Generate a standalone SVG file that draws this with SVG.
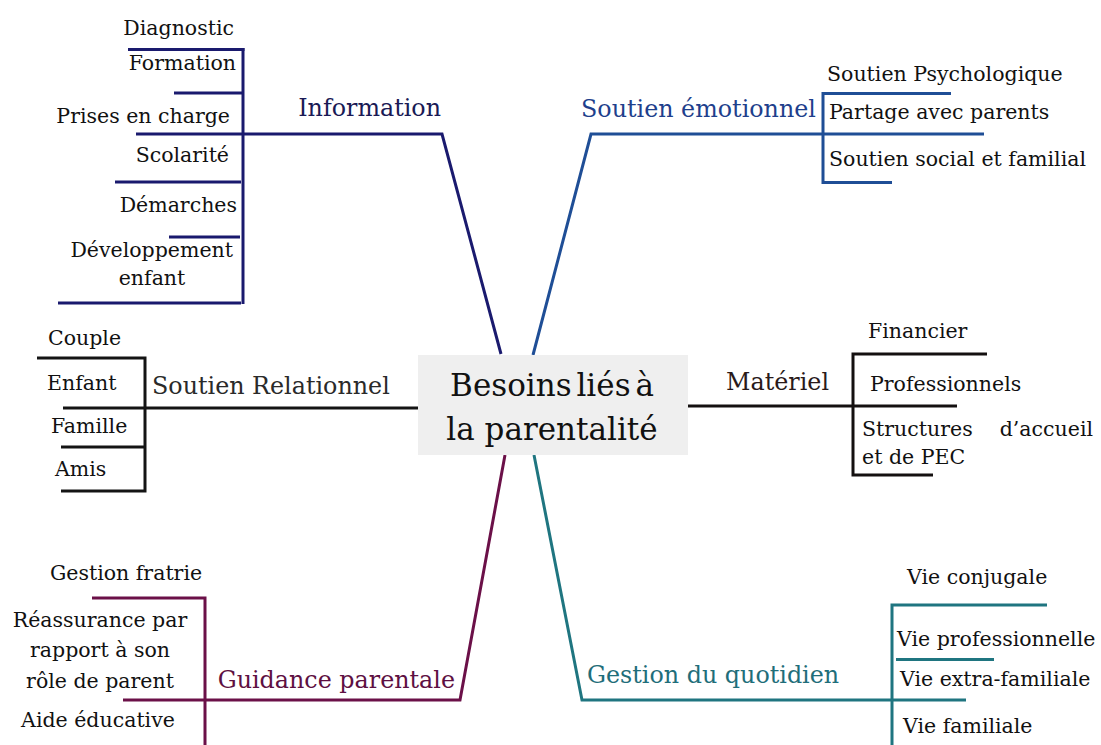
<svg xmlns="http://www.w3.org/2000/svg" width="1101" height="745" viewBox="0 0 1101 745">
<style>
text{font-family:"DejaVu Serif","Liberation Serif",serif;fill:#111}
.c{font-size:20.5px}
.b{font-size:23.8px}
.e{text-anchor:end}
.m{text-anchor:middle}
line,polyline{fill:none;stroke-width:3;stroke-linecap:butt;stroke-linejoin:miter}
.nav{stroke:#1a1a6e}
.blu{stroke:#1f4e96}
.blk{stroke:#141414}
.mat{stroke:#141010}
.pur{stroke:#6b1048}
.tea{stroke:#1f7580}
</style>
<rect width="1101" height="745" fill="#fff"/>
<g id="connectors">
<polyline class="nav" points="136,134 442,134 501,354"/>
<line class="nav" x1="243" y1="48" x2="243" y2="304"/>
<line class="nav" x1="128" y1="49.5" x2="244.5" y2="49.5"/>
<line class="nav" x1="174" y1="93" x2="243" y2="93"/>
<line class="nav" x1="115" y1="182" x2="241" y2="182"/>
<line class="nav" x1="169" y1="237" x2="240" y2="237"/>
<line class="nav" x1="58" y1="303" x2="241" y2="303"/>
<polyline class="blu" points="533,355 591,134 984,134"/>
<polyline class="blu" points="951,93.5 823,93.5 823,182.5 892,182.5"/>
<line class="blk" x1="63" y1="408" x2="418" y2="408"/>
<polyline class="blk" points="37,358 145,358 145,491 61,491"/>
<line class="blk" x1="61" y1="447" x2="145" y2="447"/>
<line class="mat" x1="688" y1="406" x2="957" y2="406"/>
<polyline class="mat" points="987,354 853,354 853,475 933,475"/>
<polyline class="pur" points="505,455 460,700 123,700"/>
<polyline class="pur" points="92,598 205,598 205,745"/>
<polyline class="tea" points="534,455 582,700 966,700"/>
<polyline class="tea" points="1047,605 892,605 892,745"/>
<line class="tea" x1="896" y1="659.5" x2="994" y2="659.5"/>
</g>
<g id="center">
<rect x="418" y="355" width="270" height="100" fill="#efefef"/>
<text x="552" y="396" class="m" style="font-size:31px" word-spacing="-5">Besoins liés à</text>
<text x="552" y="440" class="m" style="font-size:31px">la parentalité</text>
</g>
<g id="information">
<text x="441" y="116" class="b e" fill="#1a1a55" style="fill:#1a1a55">Information</text>
<text x="234" y="35" class="c e">Diagnostic</text>
<text x="236" y="70" class="c e">Formation</text>
<text x="230" y="123" class="c e">Prises en charge</text>
<text x="229" y="162" class="c e">Scolarité</text>
<text x="237" y="212" class="c e">Démarches</text>
<text x="233" y="257" class="c e">Développement</text>
<text x="152" y="285" class="c m">enfant</text>
</g>
<g id="soutien-emotionnel">
<text x="581" y="117" class="b" style="fill:#1f3f8c">Soutien émotionnel</text>
<text x="827" y="81" class="c">Soutien Psychologique</text>
<text x="829" y="119" class="c">Partage avec parents</text>
<text x="829" y="166" class="c">Soutien social et familial</text>
</g>
<g id="soutien-relationnel">
<text x="152" y="394" class="b" style="fill:#2a2a2a">Soutien Relationnel</text>
<text x="48" y="345" class="c">Couple</text>
<text x="47" y="390" class="c">Enfant</text>
<text x="51" y="433" class="c">Famille</text>
<text x="55" y="476" class="c">Amis</text>
</g>
<g id="materiel">
<text x="829" y="390" class="b e" style="fill:#2a1a1a">Matériel</text>
<text x="868" y="338" class="c">Financier</text>
<text x="870" y="391" class="c">Professionnels</text>
<text x="862" y="436" class="c">Structures</text>
<text x="1093" y="436" class="c e">d’accueil</text>
<text x="862" y="464" class="c">et de PEC</text>
</g>
<g id="guidance">
<text x="455" y="688" class="b e" style="fill:#5e1042">Guidance parentale</text>
<text x="126" y="580" class="c m">Gestion fratrie</text>
<text x="100" y="627" class="c m">Réassurance par</text>
<text x="100" y="657" class="c m">rapport à son</text>
<text x="100" y="688" class="c m">rôle de parent</text>
<text x="98" y="727" class="c m">Aide éducative</text>
</g>
<g id="gestion-quotidien">
<text x="587" y="683" class="b" style="fill:#1f6e7a">Gestion du quotidien</text>
<text x="907" y="584" class="c">Vie conjugale</text>
<text x="897" y="646" class="c">Vie professionnelle</text>
<text x="900" y="686" class="c">Vie extra-familiale</text>
<text x="903" y="733" class="c">Vie familiale</text>
</g>
</svg>
